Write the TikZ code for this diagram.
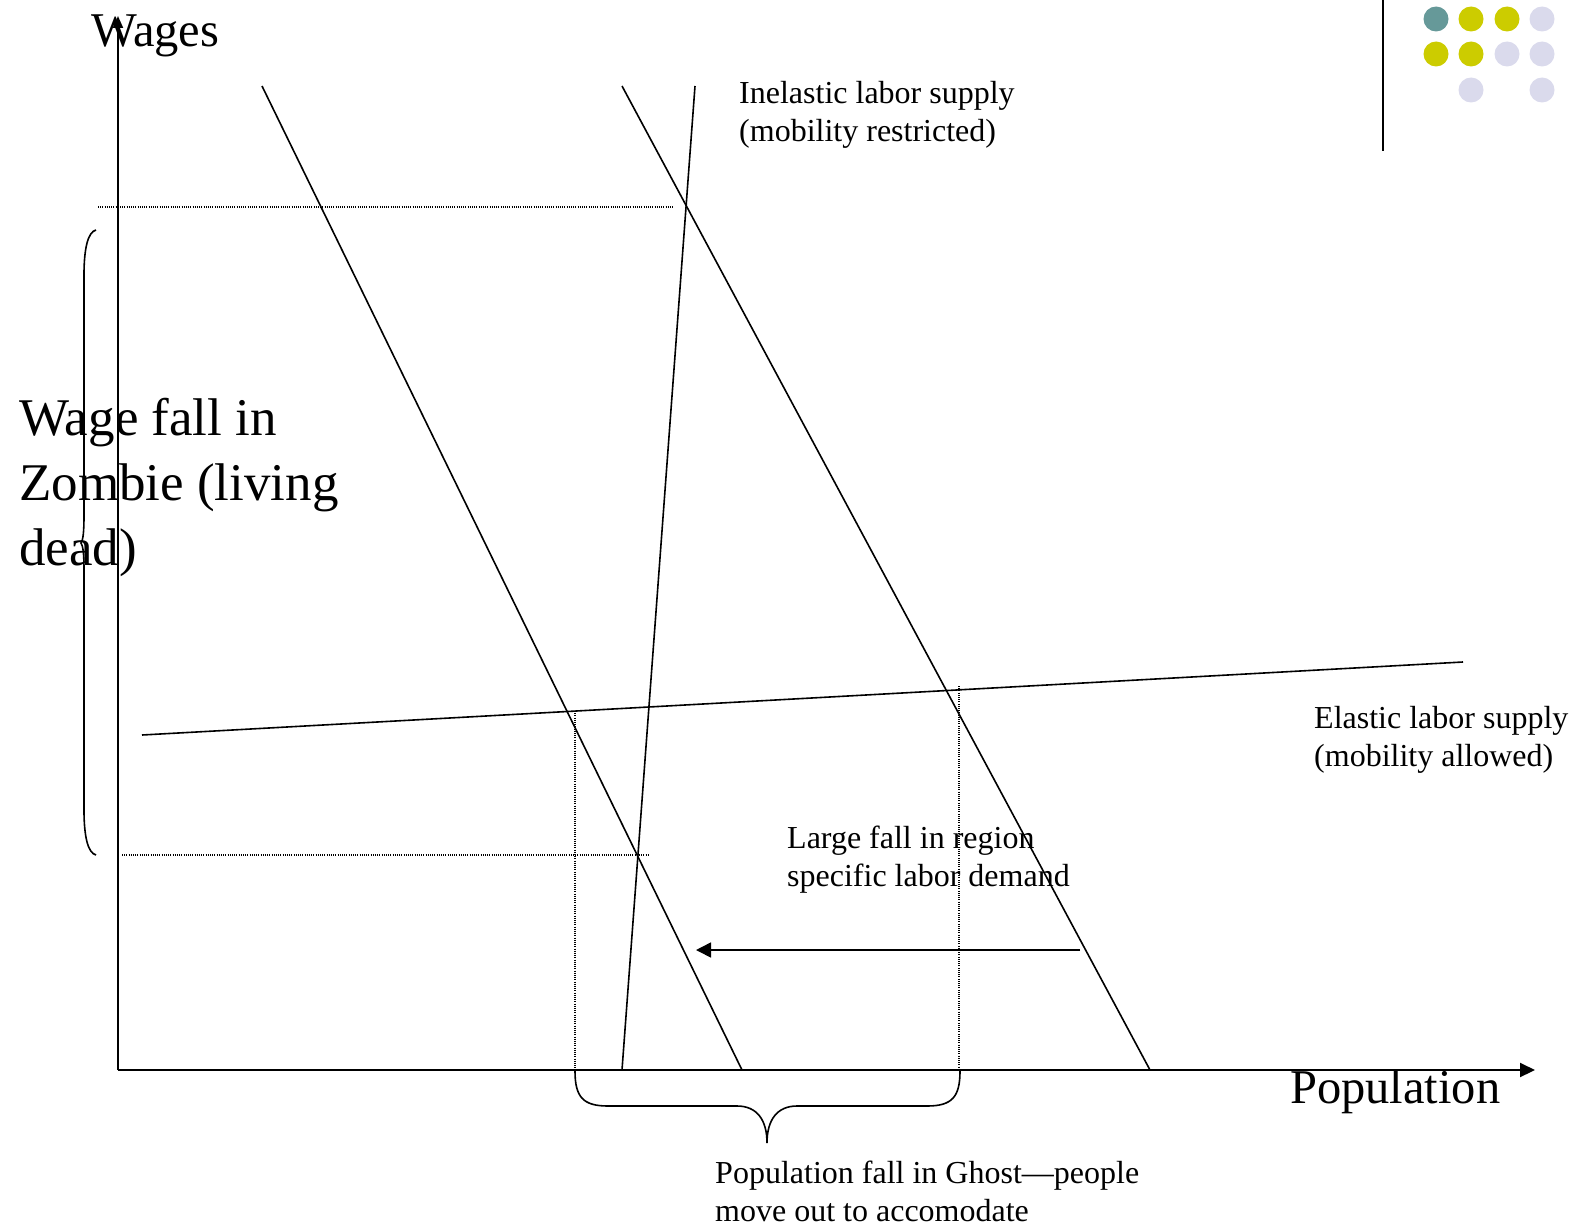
\documentclass[tikz,border=0pt]{standalone}
\usepackage{fontspec}
\setmainfont{Liberation Serif}
\usetikzlibrary{arrows.meta}
\definecolor{dotteal}{RGB}{102,153,153}
\definecolor{dotyellow}{RGB}{204,204,0}
\definecolor{dotlav}{RGB}{218,218,236}
\tikzset{
  curve/.style={line width=1.6pt, black},
  axis/.style={line width=2pt, black},
  guide/.style={line width=1.1pt, black, dash pattern=on 1pt off 1.2pt},
  brace/.style={line width=1.6pt, black},
  small/.style={inner sep=0pt, anchor=base west, font=\fontsize{32}{38.5}\selectfont},
  bigA/.style={inner sep=0pt, anchor=base west, font=\fontsize{48.5}{58}\selectfont},
  bigB/.style={inner sep=0pt, anchor=base west, font=\fontsize{53}{64}\selectfont},
  dot/.style={circle, inner sep=0pt, minimum size=25pt, draw=none},
}
\begin{document}
\begin{tikzpicture}[x=1pt,y=-1pt]
\useasboundingbox (0,0) rectangle (1581,1228);
% axes
\coordinate (O) at (118,1070);
\coordinate (ytip) at (118,16);
\coordinate (xtip) at (1535,1070);
\draw[axis, -{Triangle[length=12pt,width=10pt]}] (O) -- (ytip);
\draw[axis, -{Triangle[length=15pt,width=14pt]}] (O) -- (xtip);
% curves
\coordinate (d1a) at (262,86);   \coordinate (d1b) at (742,1070);
\coordinate (d2a) at (622,86);   \coordinate (d2b) at (1150,1070);
\coordinate (isa) at (695,86);   \coordinate (isb) at (622,1070);
\coordinate (esa) at (142,735);  \coordinate (esb) at (1463,662);
\draw[curve] (d1a) -- (d1b);
\draw[curve] (d2a) -- (d2b);
\draw[curve] (isa) -- (isb);
\draw[curve] (esa) -- (esb);
% dotted guides
\coordinate (g1a) at (98,207);  \coordinate (g1b) at (673,207);
\coordinate (g2a) at (122,855); \coordinate (g2b) at (648,855);
\coordinate (v1a) at (575,711); \coordinate (v1b) at (575,1070);
\coordinate (v2a) at (959,686); \coordinate (v2b) at (959,1070);
\draw[guide] (g1a) -- (g1b);
\draw[guide] (g2a) -- (g2b);
\draw[guide] (v1a) -- (v1b);
\draw[guide] (v2a) -- (v2b);
% shift arrow
\coordinate (sa) at (1080,950);
\coordinate (sb) at (696,950);
\draw[curve, -{Triangle[length=15pt,width=15pt]}] (sa) -- (sb);
% left brace
\draw[brace] (96,230) .. controls (88,232) and (84,248) .. (84,275) -- (84,515)
  .. controls (84,533) and (83,540) .. (81,543)
  .. controls (83,546) and (84,553) .. (84,571) -- (84,810)
  .. controls (84,837) and (88,853) .. (96,855);
% bottom brace
\draw[brace] (575,1071) .. controls (575,1097) and (583,1106) .. (608,1106) -- (737,1106)
  .. controls (757,1106) and (767,1120) .. (767,1143)
  .. controls (767,1120) and (777,1106) .. (797,1106) -- (927,1106)
  .. controls (952,1106) and (960,1097) .. (960,1071);
% top-right decoration
\coordinate (trA) at (1383,0);
\coordinate (trB) at (1383,151);
\draw[line width=2pt] (trA) -- (trB);
\node[dot, fill=dotteal]   (c11) at (1436,19) {};
\node[dot, fill=dotyellow] (c12) at (1471,19) {};
\node[dot, fill=dotyellow] (c13) at (1507,19) {};
\node[dot, fill=dotlav]    (c14) at (1542,19) {};
\node[dot, fill=dotyellow] (c21) at (1436,54) {};
\node[dot, fill=dotyellow] (c22) at (1471,54) {};
\node[dot, fill=dotlav]    (c23) at (1507,54) {};
\node[dot, fill=dotlav]    (c24) at (1542,54) {};
\node[dot, fill=dotlav]    (c32) at (1471,90) {};
\node[dot, fill=dotlav]    (c34) at (1542,90) {};
% labels
\node[bigA] (wages) at (91,47) {Wages};
\node[bigA] (pop) at (1290,1103) {Population};
\node[small] (inel1) at (739,103) {Inelastic labor supply};
\node[small] (inel2) at (739,141) {(mobility restricted)};
\node[bigB] (wf1) at (19,435) {Wage fall in};
\node[bigB] (wf2) at (19,500) {Zombie (living};
\node[bigB] (wf3) at (19,565) {dead)};
\node[small] (el1) at (1314,728) {Elastic labor supply};
\node[small] (el2) at (1314,766) {(mobility allowed)};
\node[small] (lf1) at (787,848) {Large fall in region};
\node[small] (lf2) at (787,886) {specific labor demand};
\node[small] (pf1) at (715,1183) {Population fall in Ghost—people};
\node[small] (pf2) at (715,1221) {move out to accomodate};
\end{tikzpicture}
\end{document}
